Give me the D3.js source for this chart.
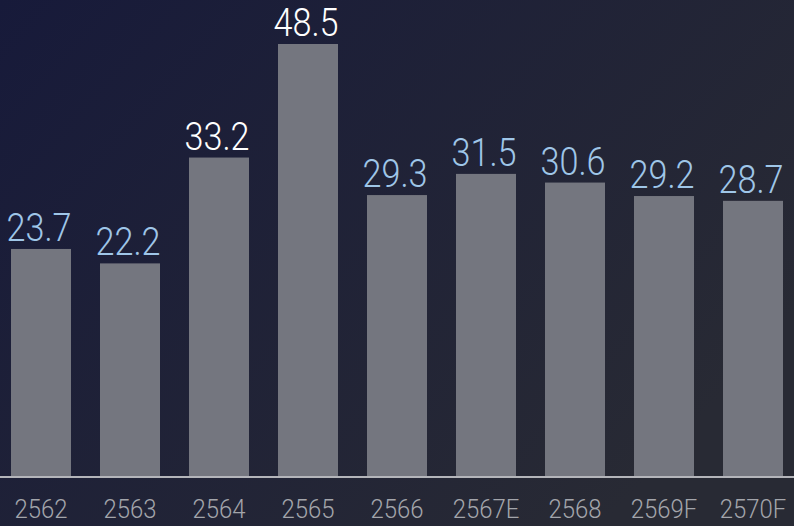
<!DOCTYPE html>
<html>
<head>
<meta charset="utf-8">
<script src="https://cdn.jsdelivr.net/npm/d3@7"></script>
<style>
  html, body { margin: 0; padding: 0; background: #1b1e33; }
  svg { display: block; }
</style>
</head>
<body>
<svg id="chart" width="794" height="526"></svg>
<script>
const years = ["2562", "2563", "2564", "2565", "2566", "2567E", "2568", "2569F", "2570F"];
const values = [23.7, 22.2, 33.2, 48.5, 29.3, 31.5, 30.6, 29.2, 28.7];
const highlight = ["2564", "2565"];

const width = 794, height = 526;
const baseY = 477;
const font = "Roboto, 'Open Sans', sans-serif";
const svg = d3.select("#chart");

// background gradient
const defs = svg.append("defs");
const bg = defs.append("linearGradient").attr("id", "bg")
  .attr("x1", "0%").attr("y1", "0%").attr("x2", "100%").attr("y2", "60%");
bg.append("stop").attr("offset", "0%").attr("stop-color", "#171a3a");
bg.append("stop").attr("offset", "100%").attr("stop-color", "#282a34");
svg.append("rect").attr("width", width).attr("height", height).attr("fill", "url(#bg)");

const x = d3.scaleBand()
  .domain(years)
  .range([0, width])
  .paddingInner(29 / 89)
  .paddingOuter(11 / 89);

// top of the axis is capped, tallest bar is clipped
const y = d3.scaleLinear().domain([0, 45]).range([baseY, 44]).clamp(true);

svg.append("g").selectAll("rect")
  .data(values)
  .enter()
  .append("rect")
  .attr("x", (d, i) => x(years[i]))
  .attr("y", d => y(d))
  .attr("width", x.bandwidth())
  .attr("height", d => baseY - y(d))
  .attr("fill", "#74767f");

svg.append("g").selectAll("text")
  .data(values)
  .enter()
  .append("text")
  .attr("transform", (d, i) => "translate(" + (x(years[i]) + x.bandwidth() / 2 - 2) + "," + (y(d) - 8) + ") scale(0.9,1)")
  .attr("text-anchor", "middle")
  .attr("font-family", font)
  .attr("font-weight", 300)
  .attr("font-size", 38)
  .attr("fill", (d, i) => highlight.includes(years[i]) ? "#ffffff" : "#9fc6e8")
  .text(d => d.toFixed(1));

const axis = svg.append("g")
  .attr("transform", "translate(0," + baseY + ")")
  .call(d3.axisBottom(x).tickSize(0).tickPadding(0));
axis.select(".domain").attr("stroke", "#b4b5ba").attr("stroke-width", 2).attr("d", "M0,0H" + width);
axis.selectAll(".tick text")
  .attr("y", null).attr("dy", null)
  .attr("transform", "translate(0,41) scale(0.92,1)")
  .attr("font-family", font)
  .attr("font-weight", 300)
  .attr("font-size", 26)
  .attr("fill", "#a3a5ab");
</script>
</body>
</html>
